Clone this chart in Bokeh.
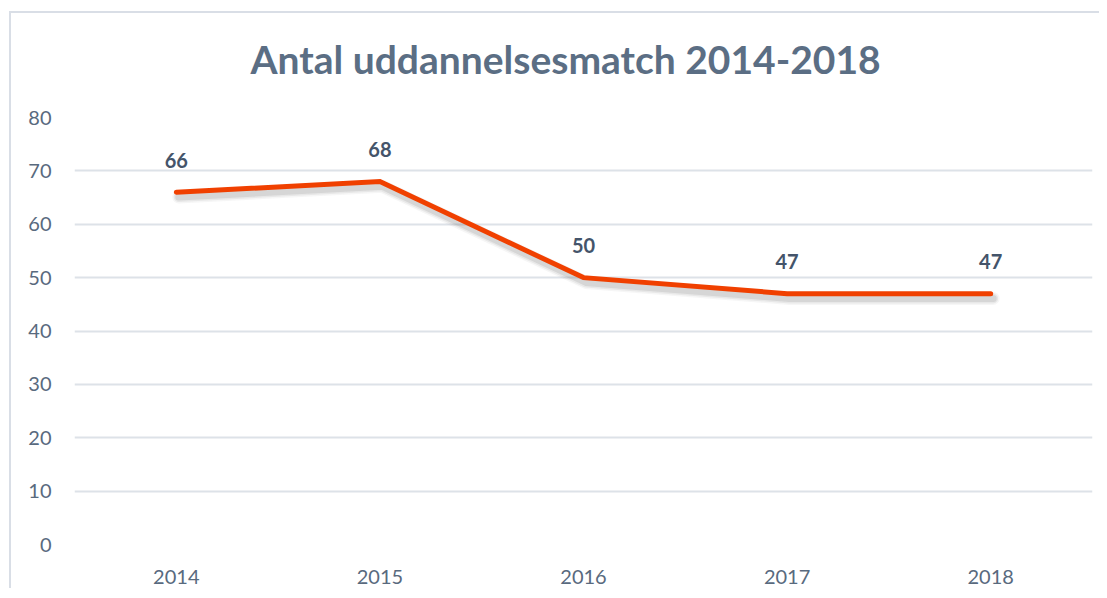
from bokeh.plotting import figure
from bokeh.models import ColumnDataSource, FixedTicker, Title
from bokeh.transform import dodge
from bokeh.core.properties import value
from bokeh.embed import file_html
from bokeh.resources import INLINE

years = ["2014", "2015", "2016", "2017", "2018"]
counts = [66, 68, 50, 47, 47]
labels = [str(v) for v in counts]
y_ticks = [0, 10, 20, 30, 40, 50, 60, 70, 80]
title_text = "Antal uddannelsesmatch 2014-2018"

src = ColumnDataSource(dict(x=years, y=counts, t=labels))

FONT = "Lato"

p = figure(width=1090, height=577, x_range=years, y_range=(0, 80),
           output_backend="svg", toolbar_location=None,
           min_border_left=63, min_border_right=9,
           min_border_bottom=46, min_border_top=104,
           title=title_text)
p.styles = {"margin-left": "9px", "margin-top": "11px",
            "border-left": "2px solid #d9dee6", "border-top": "2px solid #d9dee6"}

p.title.align = "left"
p.title.offset = 176
p.title.text_font = FONT
p.title.text_font_size = "39px"
p.title.text_font_style = "bold"
p.title.text_color = "#5b6e84"
p.title.standoff = 0

# empty spacer between title and plot area
p.add_layout(Title(text=" ", text_font_size="1px", standoff=33), "above")

p.outline_line_color = None
p.background_fill_color = "white"
p.border_fill_color = "white"

p.xgrid.grid_line_color = None
p.ygrid.grid_line_color = "#dde2e8"
p.ygrid.grid_line_width = 2

for ax in (p.xaxis[0], p.yaxis[0]):
    ax.axis_line_color = None
    ax.major_tick_line_color = None
    ax.minor_tick_line_color = None
    ax.major_label_text_font = FONT
    ax.major_label_text_font_size = "20px"
    ax.major_label_text_color = "#596a7e"

p.yaxis[0].ticker = FixedTicker(ticks=y_ticks)
p.yaxis[0].major_label_standoff = 17
p.xaxis[0].major_label_standoff = 19

# soft shadow under the line
for w, a in [(13, 0.06), (10, 0.09), (7, 0.13)]:
    p.line(x=dodge("x", 0.012, range=p.x_range), y=dodge("y", -0.9), source=src,
           line_color="#606060", line_width=w, line_alpha=a,
           line_join="round", line_cap="round")

p.line(x="x", y="y", source=src, line_color="#f04000", line_width=5,
       line_join="miter", line_cap="round")

p.text(x="x", y="y", text="t", source=src, y_offset=-32,
       text_align="center", text_baseline="middle",
       text_font=value(FONT), text_font_size="20px", text_font_style="bold",
       text_color="#44546a")

open("out.html", "w").write(file_html(p, INLINE))
